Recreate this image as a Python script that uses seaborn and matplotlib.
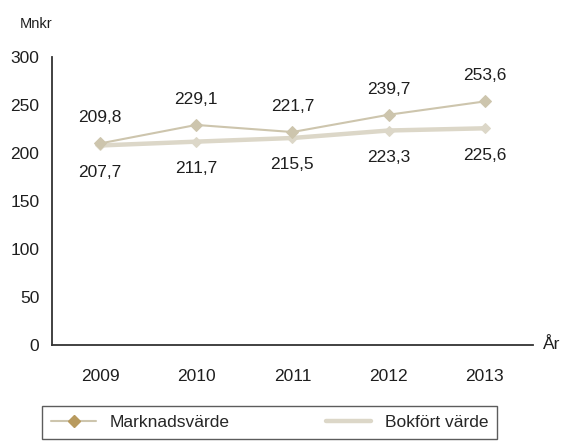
import matplotlib
matplotlib.use("Agg")
import matplotlib.pyplot as plt
import seaborn as sns
import pandas as pd
from matplotlib.lines import Line2D

years = ["2009", "2010", "2011", "2012", "2013"]
marknadsvarde = [209.8, 229.1, 221.7, 239.7, 253.6]
bokfort = [207.7, 211.7, 215.5, 223.3, 225.6]
yticks = [0, 50, 100, 150, 200, 250, 300]

sns.set_theme(style="white")
plt.rcParams['font.family'] = ['Liberation Sans', 'DejaVu Sans']

df = pd.DataFrame({
    "pos": list(range(len(years))) * 2,
    "value": marknadsvarde + bokfort,
    "serie": ["Marknadsvärde"] * len(years) + ["Bokfört värde"] * len(years),
})

fig = plt.figure(figsize=(5.64, 4.44), dpi=100)
ax = fig.add_axes([0.092, 0.223, 0.853, 0.649])

c_mv = "#cdc5ad"
c_bv = "#dcd7c8"
txt = "#1e1e1e"
sns.lineplot(data=df[df.serie == "Bokfört värde"], x="pos", y="value", ax=ax,
             color=c_bv, linewidth=3.2, marker="D", markersize=5,
             markeredgecolor=c_bv, legend=False)
sns.lineplot(data=df[df.serie == "Marknadsvärde"], x="pos", y="value", ax=ax,
             color=c_mv, linewidth=1.5, marker="D", markersize=6,
             markeredgecolor=c_mv, legend=False)

fs = 12.5
for i, v in enumerate(marknadsvarde):
    ax.annotate(f"{v:.1f}".replace(".", ","), (i, v), xytext=(0, 13),
                textcoords="offset points", ha="center", va="bottom",
                fontsize=fs, color=txt)
for i, v in enumerate(bokfort):
    ax.annotate(f"{v:.1f}".replace(".", ","), (i, v), xytext=(0, -14),
                textcoords="offset points", ha="center", va="top",
                fontsize=fs, color=txt)

ax.set_xlim(-0.5, len(years) - 0.5)
ax.set_ylim(0, 300)
ax.set_yticks(yticks)
ax.set_yticklabels([str(t) for t in yticks], fontsize=fs, color=txt)
ax.set_xticks([i + 0.5 for i in range(len(years) - 1)])
ax.set_xticklabels([])
ax.set_xticks(range(len(years)), minor=True)
ax.set_xticklabels(years, minor=True, fontsize=fs, color=txt)
ax.tick_params(axis="x", which="major", length=5, direction="out", color="#333333", width=1)
ax.tick_params(axis="x", which="minor", length=0, pad=17)
ax.tick_params(axis="y", length=5, direction="out", color="#333333", width=1, pad=4)
ax.set_xlabel("")
ax.set_ylabel("")
for s in ["top", "right"]:
    ax.spines[s].set_visible(False)
for s in ["left", "bottom"]:
    ax.spines[s].set_color("#333333")
    ax.spines[s].set_linewidth(1.3)

fig.text(0.035, 0.945, "Mnkr", fontsize=10.5, color=txt, ha="left", va="center")
fig.text(0.962, 0.225, "År", fontsize=fs, color=txt, ha="left", va="center")

handles = [
    Line2D([0], [0], color=c_mv, linewidth=1.5, marker="D", markersize=6,
           markerfacecolor="#b89a5e", markeredgecolor="#b89a5e"),
    Line2D([0], [0], color=c_bv, linewidth=3.2),
]
leg = fig.legend(handles, ["Marknadsvärde", "Bokfört värde"], loc="center",
                 bbox_to_anchor=(0.478, 0.048), ncol=2, fontsize=fs,
                 frameon=True, fancybox=False, edgecolor="#333333",
                 handlelength=2.6, columnspacing=5.5, borderpad=0.5)
leg.get_frame().set_linewidth(1.0)

fig.savefig("out.png", dpi=100)
